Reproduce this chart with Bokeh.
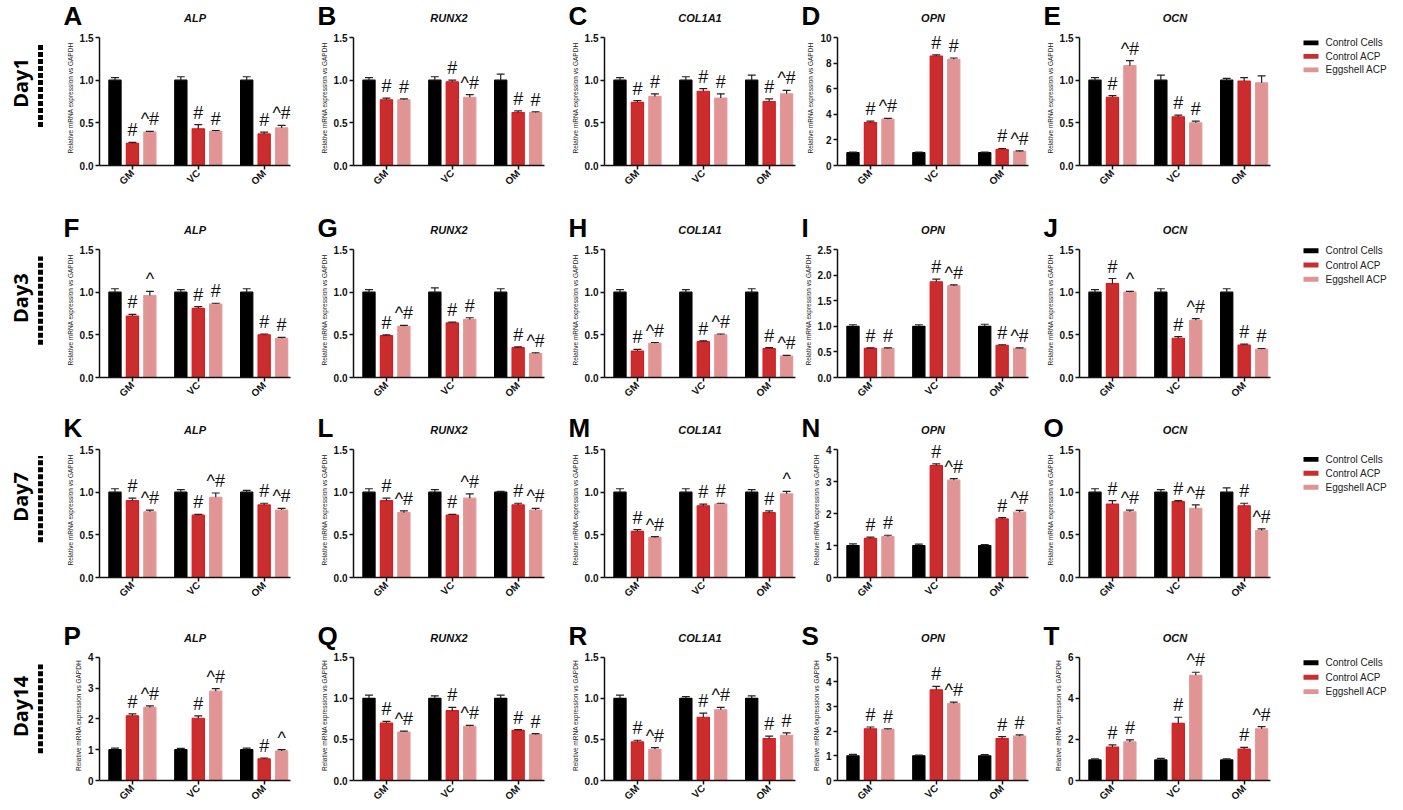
import math
from bokeh.plotting import figure
from bokeh.layouts import row, column
from bokeh.models import Range1d, FixedTicker, NumeralTickFormatter, ColumnDataSource
from bokeh.core.properties import value
from bokeh.embed import file_html
from bokeh.resources import INLINE

# ---------------- data ----------------
groups = ["GM", "VC", "OM"]
series = ["Control Cells", "Control ACP", "Eggshell ACP"]
genes = ["ALP", "RUNX2", "COL1A1", "OPN", "OCN"]
days = ["Day1", "Day3", "Day7", "Day14"]
letters = [["A", "B", "C", "D", "E"], ["F", "G", "H", "I", "J"],
           ["K", "L", "M", "N", "O"], ["P", "Q", "R", "S", "T"]]
y_label = "Relative mRNA expression vs GAPDH"

y_max = [[1.5, 1.5, 1.5, 10, 1.5], [1.5, 1.5, 1.5, 2.5, 1.5],
         [1.5, 1.5, 1.5, 4, 1.5], [4, 1.5, 1.5, 5, 6]]
y_step = [[0.5, 0.5, 0.5, 2, 0.5], [0.5, 0.5, 0.5, 0.5, 0.5],
          [0.5, 0.5, 0.5, 1, 0.5], [1, 0.5, 0.5, 1, 2]]

# Day 1 (rows: ALP, RUNX2, COL1A1, OPN, OCN; cols: GM, VC, OM)
d1_cc = [[1.00, 1.00, 1.00], [1.00, 1.00, 1.00], [1.00, 1.00, 1.00], [1.00, 1.00, 1.00], [1.00, 1.00, 1.00]]
d1_ca = [[0.26, 0.43, 0.37], [0.77, 0.98, 0.62], [0.74, 0.87, 0.75], [3.35, 8.55, 1.25], [0.80, 0.57, 0.99]]
d1_ea = [[0.39, 0.40, 0.44], [0.77, 0.80, 0.62], [0.81, 0.79, 0.84], [3.62, 8.30, 1.10], [1.17, 0.50, 0.97]]
d1_cc_err = [[0.03, 0.04, 0.04], [0.03, 0.04, 0.07], [0.03, 0.04, 0.06], [0.05, 0.05, 0.05], [0.03, 0.06, 0.02]]
d1_ca_err = [[0.01, 0.05, 0.02], [0.02, 0.02, 0.02], [0.02, 0.03, 0.03], [0.12, 0.10, 0.08], [0.02, 0.02, 0.04]]
d1_ea_err = [[0.01, 0.01, 0.03], [0.01, 0.03, 0.01], [0.03, 0.05, 0.04], [0.06, 0.10, 0.05], [0.06, 0.02, 0.08]]
d1_ca_sig = [["#", "#", "#"], ["#", "#", "#"], ["#", "#", "#"], ["#", "#", "#"], ["#", "#", ""]]
d1_ea_sig = [["^#", "#", "^#"], ["#", "^#", "#"], ["#", "#", "^#"], ["^#", "#", "^#"], ["^#", "#", ""]]

# Day 3
d3_cc = [[1.00, 1.00, 1.00], [1.00, 1.00, 1.00], [1.00, 1.00, 1.00], [1.00, 1.00, 1.00], [1.00, 1.00, 1.00]]
d3_ca = [[0.72, 0.81, 0.50], [0.49, 0.64, 0.35], [0.31, 0.42, 0.34], [0.57, 1.87, 0.63], [1.10, 0.46, 0.38]]
d3_ea = [[0.96, 0.86, 0.46], [0.60, 0.68, 0.28], [0.40, 0.50, 0.25], [0.57, 1.79, 0.57], [1.00, 0.67, 0.33]]
d3_cc_err = [[0.04, 0.03, 0.04], [0.03, 0.05, 0.04], [0.03, 0.03, 0.04], [0.03, 0.03, 0.04], [0.03, 0.04, 0.04]]
d3_ca_err = [[0.02, 0.02, 0.01], [0.01, 0.01, 0.01], [0.02, 0.01, 0.01], [0.01, 0.05, 0.01], [0.06, 0.02, 0.01]]
d3_ea_err = [[0.05, 0.01, 0.01], [0.01, 0.02, 0.01], [0.01, 0.01, 0.01], [0.01, 0.02, 0.01], [0.01, 0.02, 0.01]]
d3_ca_sig = [["#", "#", "#"], ["#", "#", "#"], ["#", "#", "#"], ["#", "#", "#"], ["#", "#", "#"]]
d3_ea_sig = [["^", "#", "#"], ["^#", "#", "^#"], ["^#", "^#", "^#"], ["#", "^#", "^#"], ["^", "^#", "#"]]

# Day 7
d7_cc = [[1.00, 1.00, 1.00], [1.00, 1.00, 1.00], [1.00, 1.00, 1.00], [1.00, 1.00, 1.00], [1.00, 1.00, 1.00]]
d7_ca = [[0.90, 0.73, 0.85], [0.90, 0.73, 0.85], [0.54, 0.84, 0.76], [1.22, 3.50, 1.83], [0.86, 0.89, 0.84]]
d7_ea = [[0.77, 0.94, 0.79], [0.76, 0.93, 0.79], [0.47, 0.86, 0.98], [1.28, 3.04, 2.04], [0.77, 0.81, 0.55]]
d7_cc_err = [[0.04, 0.03, 0.02], [0.04, 0.03, 0.01], [0.04, 0.04, 0.03], [0.05, 0.04, 0.03], [0.04, 0.03, 0.05]]
d7_ca_err = [[0.03, 0.01, 0.02], [0.03, 0.01, 0.02], [0.02, 0.02, 0.02], [0.04, 0.05, 0.04], [0.04, 0.01, 0.03]]
d7_ea_err = [[0.02, 0.05, 0.02], [0.02, 0.05, 0.02], [0.01, 0.01, 0.03], [0.04, 0.05, 0.06], [0.02, 0.04, 0.02]]
d7_ca_sig = [["#", "#", "#"], ["#", "#", "#"], ["#", "#", "#"], ["#", "#", "#"], ["#", "#", "#"]]
d7_ea_sig = [["^#", "^#", "^#"], ["^#", "^#", "^#"], ["^#", "#", "^"], ["#", "^#", "^#"], ["^#", "^#", "^#"]]

# Day 14
d14_cc = [[1.00, 1.00, 1.00], [1.00, 1.00, 1.00], [1.00, 1.00, 1.00], [1.00, 1.00, 1.00], [1.00, 1.00, 1.00]]
d14_ca = [[2.10, 2.02, 0.70], [0.70, 0.85, 0.61], [0.47, 0.77, 0.51], [2.10, 3.68, 1.70], [1.63, 2.78, 1.53]]
d14_ea = [[2.37, 2.90, 0.96], [0.59, 0.66, 0.56], [0.38, 0.86, 0.55], [2.07, 3.12, 1.80], [1.88, 5.12, 2.52]]
d14_cc_err = [[0.05, 0.04, 0.05], [0.04, 0.03, 0.04], [0.04, 0.02, 0.03], [0.06, 0.03, 0.05], [0.05, 0.08, 0.05]]
d14_ca_err = [[0.06, 0.08, 0.03], [0.02, 0.04, 0.01], [0.02, 0.05, 0.03], [0.07, 0.14, 0.08], [0.10, 0.30, 0.08]]
d14_ea_err = [[0.05, 0.08, 0.04], [0.01, 0.01, 0.01], [0.02, 0.03, 0.03], [0.03, 0.06, 0.05], [0.10, 0.15, 0.10]]
d14_ca_sig = [["#", "#", "#"], ["#", "#", "#"], ["#", "#", "#"], ["#", "#", "#"], ["#", "#", "#"]]
d14_ea_sig = [["^#", "^#", "^"], ["^#", "^#", "#"], ["^#", "^#", "#"], ["#", "^#", "#"], ["#", "^#", "^#"]]

means = [[d1_cc, d1_ca, d1_ea], [d3_cc, d3_ca, d3_ea], [d7_cc, d7_ca, d7_ea], [d14_cc, d14_ca, d14_ea]]
errs = [[d1_cc_err, d1_ca_err, d1_ea_err], [d3_cc_err, d3_ca_err, d3_ea_err],
        [d7_cc_err, d7_ca_err, d7_ea_err], [d14_cc_err, d14_ca_err, d14_ea_err]]
sigs = [[None, d1_ca_sig, d1_ea_sig], [None, d3_ca_sig, d3_ea_sig],
        [None, d7_ca_sig, d7_ea_sig], [None, d14_ca_sig, d14_ea_sig]]

# ---------------- style / layout ----------------
FONT = "Liberation Sans"
FRAME_W, FRAME_H = 191, 128
EXTRA = 7            # frame space above the top of the y axis (axis bounded to 0..ymax)
X0, X1 = -0.5, 2.4
BAR_OFF = [-0.265, 0.0, 0.265]
BAR_W = 0.185
LEFT_B = 40
RIGHT_B = [23, 20, 2, 11, 5]
TOP_B = [37, 44, 42, 46]
BOT_B = [40, 30, 34, 23]
LETTER_Y = 15
LEGEND_OFF = [9, 3, 14, 8]
LABEL_W = 59
LEGEND_W = 128
TOTAL_W = LABEL_W + sum(LEFT_B + FRAME_W + rb for rb in RIGHT_B) + LEGEND_W
fill_colors = ["#000000", "#c92d2d", "#e09494"]
line_colors = ["#000000", "#e0171c", "#e39a9a"]

frame_lefts = []
_x = LABEL_W
for _c in range(5):
    frame_lefts.append(_x + LEFT_B)
    _x += LEFT_B + FRAME_W + RIGHT_B[_c]


def blank(width, height):
    q = figure(width=width, height=height, x_range=Range1d(0, width), y_range=Range1d(0, height),
               output_backend="svg", toolbar_location=None, tools="", title=None,
               x_axis_location=None, y_axis_location=None, min_border=0)
    q.outline_line_color = None
    q.xgrid.visible = False
    q.ygrid.visible = False
    return q


def header(r):
    h = TOP_B[r] - EXTRA
    q = blank(TOTAL_W, h)
    q.text(x=[fl + FRAME_W / 2 for fl in frame_lefts], y=[20 - EXTRA] * 5, text=genes,
           text_align="center", text_baseline="middle", text_font=value(FONT),
           text_font_size="11px", text_font_style="bold italic", text_color="#111111")
    q.text(x=[fl - 36 for fl in frame_lefts], y=[LETTER_Y] * 5,
           text=letters[r], text_align="left", text_baseline="middle", text_font=value(FONT),
           text_font_size="26px", text_font_style="bold", text_color="#000000")
    return q


def panel(r, c):
    ymax = y_max[r][c]
    step = y_step[r][c]
    H = EXTRA + FRAME_H + BOT_B[r]
    W = LEFT_B + FRAME_W + RIGHT_B[c]
    p = figure(width=W, height=H, x_range=Range1d(X0, X1),
               y_range=Range1d(0, ymax * (FRAME_H + EXTRA) / FRAME_H),
               output_backend="svg", toolbar_location=None, tools="", title=None,
               min_border_left=LEFT_B, min_border_right=RIGHT_B[c],
               min_border_top=0, min_border_bottom=BOT_B[r])
    p.outline_line_color = None
    p.xgrid.visible = False
    p.ygrid.visible = False

    for s in range(3):
        m = means[r][s][c]
        e = errs[r][s][c]
        xs = [i + BAR_OFF[s] for i in range(len(groups))]
        etop = [mm + ee for mm, ee in zip(m, e)]
        data = dict(x=xs, top=m, etop=etop,
                    cl=[x - 0.06 for x in xs], cr=[x + 0.06 for x in xs])
        data["sig"] = sigs[r][s][c] if sigs[r][s] is not None else ["", "", ""]
        src = ColumnDataSource(data)
        p.vbar(x="x", top="top", bottom=0, width=BAR_W, source=src,
               fill_color=fill_colors[s], line_color=line_colors[s], line_width=1.2)
        p.segment(x0="x", y0="top", x1="x", y1="etop", source=src, line_color="#222222", line_width=1.2)
        p.segment(x0="cl", y0="etop", x1="cr", y1="etop", source=src, line_color="#222222", line_width=1.2)
        if s > 0:
            p.text(x="x", y="etop", text="sig", source=src, text_align="center", text_baseline="bottom",
                   y_offset=-2, text_font=value(FONT), text_font_size="18px", text_color="#111111")

    ticks = [round(k * step, 3) for k in range(int(round(ymax / step)) + 1)]
    yax = p.yaxis[0]
    yax.bounds = (0, ymax)
    yax.ticker = FixedTicker(ticks=ticks)
    yax.formatter = NumeralTickFormatter(format="0.0" if step < 1 else "0")
    yax.axis_label = y_label
    yax.axis_label_text_font = FONT
    yax.axis_label_text_font_size = "6.5px"
    yax.axis_label_text_font_style = "normal"
    yax.axis_label_text_color = "#222222"
    yax.axis_label_standoff = 3
    xax = p.xaxis[0]
    xax.ticker = FixedTicker(ticks=[0, 1, 2])
    xax.major_label_overrides = {i: g for i, g in enumerate(groups)}
    xax.major_label_orientation = math.pi / 4
    for ax in (xax, yax):
        ax.major_label_text_font = FONT
        ax.major_label_text_font_size = "10px"
        ax.major_label_text_font_style = "bold"
        ax.major_label_text_color = "#111111"
        ax.major_label_standoff = 2
        ax.major_tick_out = 4
        ax.major_tick_in = 0
        ax.minor_tick_out = 0
        ax.minor_tick_in = 0
        ax.axis_line_width = 1.5
        ax.major_tick_line_width = 1.5
        ax.axis_line_color = "#111111"
        ax.major_tick_line_color = "#111111"
    return p


def row_label(r):
    H = EXTRA + FRAME_H + BOT_B[r]
    q = blank(LABEL_W, H)
    cy = BOT_B[r] + FRAME_H / 2
    q.text(x=[20], y=[cy + 3], text=[days[r]], angle=math.pi / 2, text_align="center",
           text_baseline="middle", text_font=value("Open Sans"), text_font_style="bold",
           text_font_size="20px", text_color="#000000")
    q.segment(x0=[40], y0=[cy - 54], x1=[40], y1=[cy + 54], line_color="#000000",
              line_width=5, line_dash="5 2")
    return q


def legend_fig(r):
    H = EXTRA + FRAME_H + BOT_B[r]
    q = blank(LEGEND_W, H)
    top = H - EXTRA
    ys = [top - LEGEND_OFF[r] - 17.5 * k for k in range(len(series))]
    q.rect(x=[35.5] * len(series), y=ys, width=15, height=6, fill_color=fill_colors,
           line_color=None)
    q.text(x=[50] * len(series), y=ys, text=series, text_align="left", text_baseline="middle",
           text_font=value(FONT), text_font_size="10px", text_color="#222222")
    return q


blocks = []
for r in range(4):
    blocks.append(header(r))
    blocks.append(row([row_label(r)] + [panel(r, c) for c in range(5)] + [legend_fig(r)]))
layout = column(blocks)

open("out.html", "w").write(file_html(layout, INLINE))
